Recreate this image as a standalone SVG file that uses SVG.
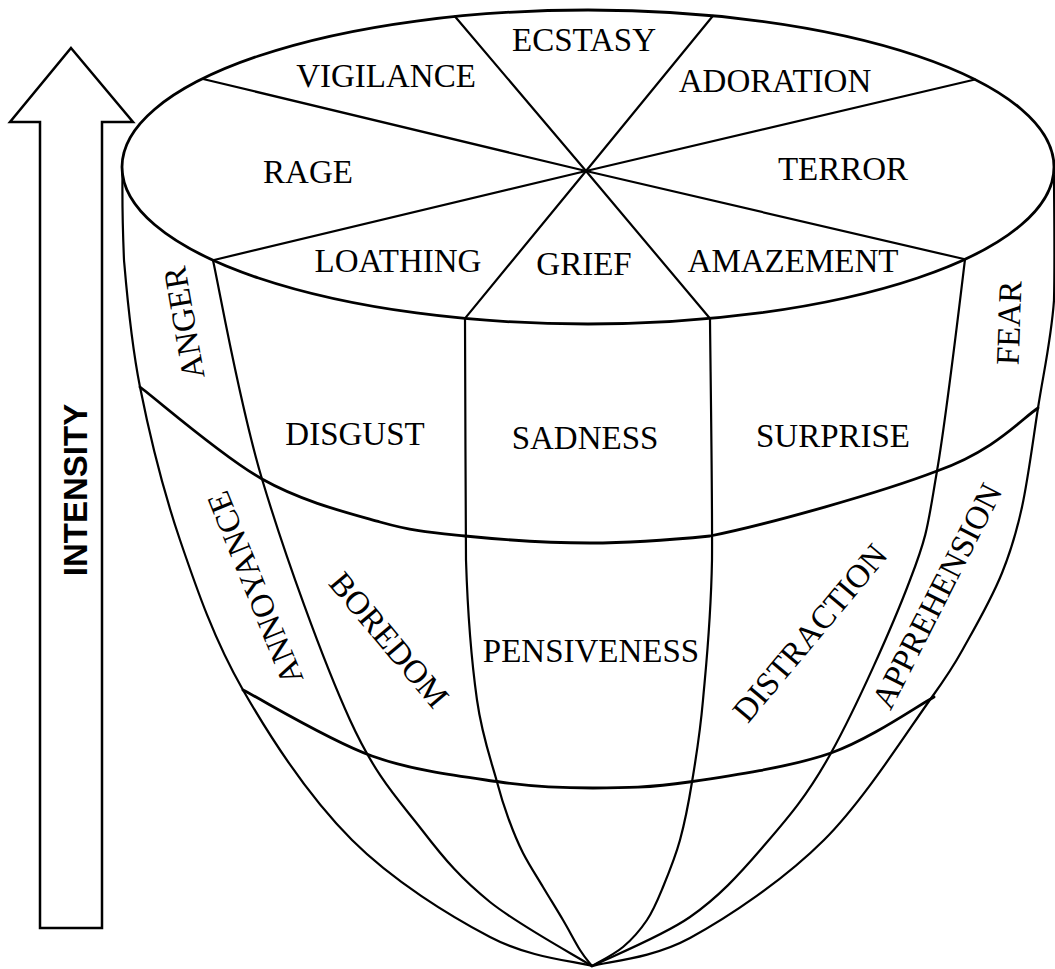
<svg xmlns="http://www.w3.org/2000/svg" width="1055" height="969" viewBox="0 0 1055 969">
<style>
.ln{fill:none;stroke:#000;stroke-width:2.2;stroke-linecap:round;stroke-linejoin:round}
.bd{fill:none;stroke:#000;stroke-width:2.8;stroke-linecap:round}
.lb{font-family:"Liberation Serif","Times New Roman",serif;font-size:33px;fill:#000;text-anchor:middle}
.ax{font-family:"Liberation Sans",Arial,sans-serif;font-size:33px;font-weight:bold;fill:#000;text-anchor:middle}
</style>
<rect width="1055" height="969" fill="#fff"/>
<g id="arrow">
<polygon points="71,48 133,122 102,122 102,928 40,928 40,122 10,122" fill="#fff" stroke="#000" stroke-width="2.5" stroke-linejoin="miter"/>
<text class="ax" transform="translate(75,490) rotate(-90)" y="12">INTENSITY</text>
</g>
<g id="top-disc">
<ellipse cx="588" cy="167" rx="466" ry="157" fill="none" stroke="#000" stroke-width="2.8"/>
<g class="ln">
<line x1="586" y1="171" x2="455" y2="16.5"/>
<line x1="586" y1="171" x2="713" y2="15.8"/>
<line x1="586" y1="171" x2="203" y2="79"/>
<line x1="586" y1="171" x2="975" y2="79.5"/>
<line x1="586" y1="171" x2="213" y2="260.2"/>
<line x1="586" y1="171" x2="965" y2="259.3"/>
<line x1="586" y1="171" x2="465" y2="318.4"/>
<line x1="586" y1="171" x2="710" y2="318.5"/>
</g>
</g>
<g id="meridians" class="ln">
<path id="line-a" d="M122.5,174 C122.3,190.8 122.5,225 124,260 C127,295 130.7,340.3 140,387 C149.3,433.7 162.8,489.5 180,540 C197.2,590.5 214.3,640 243,690 C271.7,740 310.8,798.8 352,840 C393.2,881.2 450,916 490,937 C530,958 575,961.2 592,966"/>
<path id="line-b" d="M213,260.2 C221.2,298.2 239.2,402.7 262,479 C284.8,555.3 323.3,661.5 350,720 C376.7,778.5 398.7,799.7 422,830 C445.3,860.3 461.7,879.3 490,902 C518.3,924.7 575,955.3 592,966"/>
<path id="line-c" d="M465,318.4 C465.2,358.7 465.5,496.4 466,560 C468,623.6 471.8,663 477,700 C482.2,737 491.7,762 497,782 C502.3,802 504.7,808.2 509,820 C513.3,831.8 517.3,841.8 523,853 C528.7,864.2 536.3,875.8 543,887 C549.7,898.2 556.8,909.5 563,920 C569.2,930.5 575.2,942.3 580,950 C584.8,957.7 590,963.3 592,966"/>
<path id="line-d" d="M710,318.5 C710.3,358.8 712.5,496.4 712,560 C710.8,623.6 706.3,663 703,700 C699.7,737 695.8,758.7 692,782 C688.2,805.3 684.8,822.5 680,840 C675.2,857.5 668.5,873.7 663,887 C657.5,900.3 653.7,910 647,920 C640.3,930 632.2,939.3 623,947 C613.8,954.7 597.2,962.8 592,966"/>
<path id="line-e" d="M965,259.3 C960.8,293.7 946.2,417.5 937,471 C927.8,524.5 928.2,533.2 910,580 C892.3,627 855.7,708.3 831,753 C806.3,797.7 785.5,820.7 762,848 C738.5,875.3 718.3,897.3 690,917 C661.7,936.7 608.3,957.8 592,966"/>
<path id="line-f" d="M1054,175 C1054,195.8 1055,261 1054,300 C1051.3,338.8 1043.3,373.5 1038,408 C1032.7,442.5 1028,479.5 1022,507 C1016,534.5 1011,550.8 1002,573 C993,595.2 979.7,619.3 968,640 C956.3,660.7 956,663.7 932,697 C908,730.3 864.3,799.8 824,840 C783.7,880.2 728.7,917 690,938 C651.3,959 608.3,961.3 592,966"/>
</g>
<g id="bands" class="bd">
<path id="band-middle" d="M140,387 C160.3,402.3 222,456.5 262,479 C302,501.5 346.2,512.5 380,522 C413.8,531.5 430,532.5 465,536 C500,539.5 549.2,543 590,543 C630.8,543 660,541 710,536 C768.3,524.2 881.7,492.3 937,471 C994.7,450.7 1021.7,418.7 1038,408"/>
<path id="band-lower" d="M243,690 C264.5,701 329.2,740.7 372,756 C414.8,771.3 463.2,776.7 500,782 C536.8,787.3 561.5,788 593,788 C624.5,788 649.3,787.8 689,782 C728.7,776.2 790.2,767.2 831,753 C870.8,738.8 916.8,706.3 934,697"/>
</g>
<g id="labels">
<text id="t-ecstasy" class="lb" x="584" y="51">ECSTASY</text>
<text id="t-vigilance" class="lb" x="386" y="87">VIGILANCE</text>
<text id="t-adoration" class="lb" x="775" y="92">ADORATION</text>
<text id="t-rage" class="lb" x="308" y="183">RAGE</text>
<text id="t-terror" class="lb" x="843" y="180">TERROR</text>
<text id="t-loathing" class="lb" x="398" y="272">LOATHING</text>
<text id="t-grief" class="lb" x="584" y="275">GRIEF</text>
<text id="t-amazement" class="lb" x="793" y="272">AMAZEMENT</text>
<text id="t-anger" class="lb" transform="translate(184,323) rotate(-100)" y="11">ANGER</text>
<text id="t-fear" class="lb" transform="translate(1009,323) rotate(-88)" y="11">FEAR</text>
<text id="t-disgust" class="lb" x="355" y="445">DISGUST</text>
<text id="t-sadness" class="lb" x="585" y="449">SADNESS</text>
<text id="t-surprise" class="lb" x="833" y="447">SURPRISE</text>
<text id="t-annoyance" class="lb" transform="translate(255,588) rotate(-112)" y="11">ANNOYANCE</text>
<text id="t-boredom" class="lb" transform="translate(389,640) rotate(50)" y="11">BOREDOM</text>
<text id="t-pensiveness" class="lb" x="591" y="662">PENSIVENESS</text>
<text id="t-distraction" class="lb" transform="translate(810,633) rotate(-50)" y="11">DISTRACTION</text>
<text id="t-apprehension" class="lb" transform="translate(937,596) rotate(-63)" y="11">APPREHENSION</text>
</g>
</svg>
